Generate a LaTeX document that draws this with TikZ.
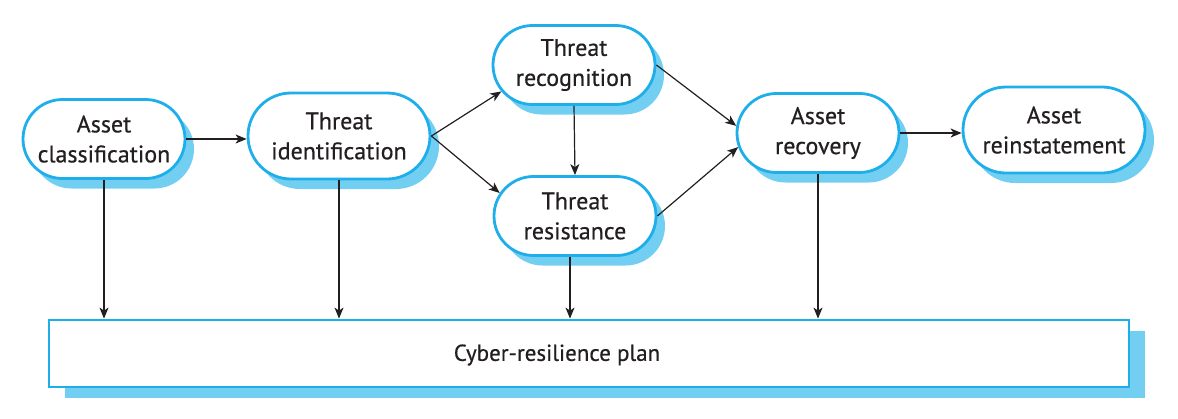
\documentclass[tikz,border=0pt]{standalone}
\usepackage{fontspec}
\setmainfont{PT Sans}
\newfontfamily\stagefont{PT Sans}[FakeBold=0.5]
\usetikzlibrary{arrows.meta, positioning, shapes.misc, shadows}
\definecolor{lineblue}{RGB}{30, 175, 235}
\definecolor{shadeblue}{RGB}{115, 207, 242}
\definecolor{inkblack}{RGB}{35, 31, 32}

\begin{document}
\begin{tikzpicture}[x=1pt, y=-1pt,
    stage/.style={rounded rectangle, draw=lineblue, line width=2.8pt, fill=white,
                  minimum width=162pt, minimum height=79pt, inner sep=0pt, align=center,
                  text=inkblack, font=\stagefont\fontsize{24}{30}\selectfont,
                  general shadow={fill=shadeblue, shadow xshift=9pt, shadow yshift=-10pt}},
    wide/.style={minimum width=182pt, minimum height=86pt},
    planbox/.style={rectangle, draw=lineblue, line width=2.8pt, fill=white,
                    minimum width=1080pt, minimum height=67pt, inner sep=0pt,
                    general shadow={fill=shadeblue, shadow xshift=16pt, shadow yshift=-11pt}},
    arr/.style={-{Stealth[length=11pt, width=9pt, inset=3pt]}, line width=1.2pt, draw=inkblack}]
    \useasboundingbox (0,0) rectangle (1178,418);

    % stages
    \node[stage] (ac) at (104,139) {Asset\\classification};
    \node[stage, wide] (ti) at (339,136) {Threat\\identification};
    \node[stage] (tr) at (574,65) {Threat\\recognition};
    \node[stage] (tres) at (575,216) {Threat\\resistance};
    \node[stage] (ar) at (818,133) {Asset\\recovery};
    \node[stage, wide] (are) at (1054,130) {Asset\\reinstatement};

    % plan
    \node[planbox] (plan) at (589,353.5) {};
    \node[text=inkblack, font=\stagefont\fontsize{23}{30}\selectfont] (plantext) at (557,355) {Cyber-resilience plan};

    % flow
    \draw[arr] (ac.east) -- (ti.west |- ac.east);
    \draw[arr] (ti.east) -- (tr.200);
    \draw[arr] (ti.east) -- (tres.163);
    \draw[arr] (tr.south) -- (tres.north);
    \draw[arr] (tr.east) -- (ar.175);
    \draw[arr] (tres.east) -- (ar.190);
    \draw[arr] (ar.east) -- (are.west |- ar.east);

    % to plan
    \foreach \s/\dx in {ac/0, ti/0, tres/-5, ar/0}
        \draw[arr] ([xshift=\dx pt]\s.south) -- ([xshift=\dx pt]\s.south |- plan.north);
\end{tikzpicture}
\end{document}
